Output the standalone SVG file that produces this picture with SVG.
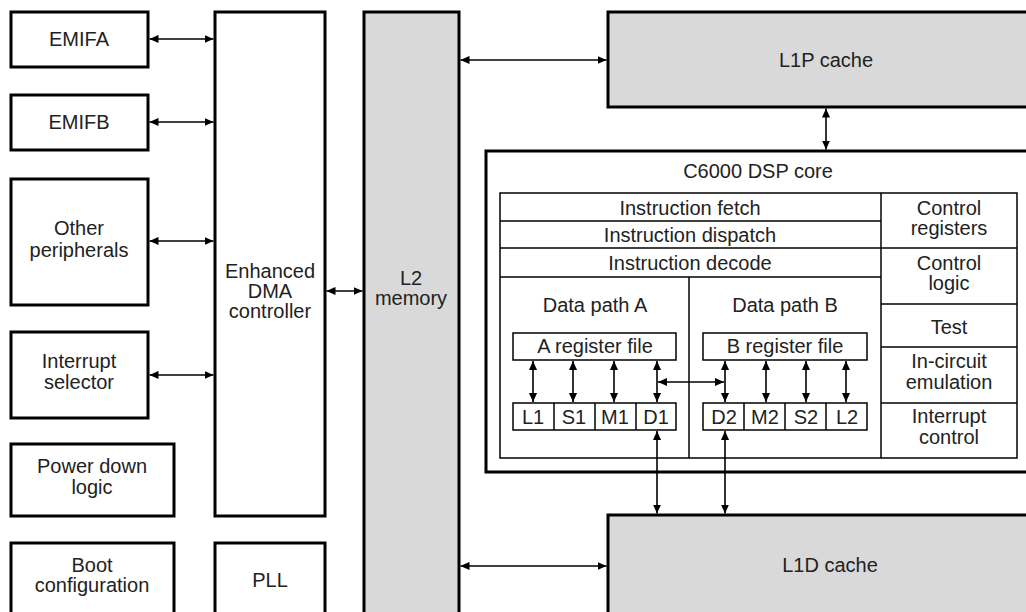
<svg xmlns="http://www.w3.org/2000/svg" width="1026" height="612" viewBox="0 0 1026 612">
<style>
.box{fill:#fff;stroke:#000;stroke-width:3}
.gray{fill:#d9d9d9;stroke:#000;stroke-width:3}
.thin{fill:none;stroke:#000;stroke-width:1.5}
.t{font-family:"Liberation Sans",Arial,sans-serif;font-size:20px;fill:#222;text-anchor:middle}
.c line{stroke:#000;stroke-width:1.6;marker-start:url(#ah);marker-end:url(#ah)}
</style>
<defs>
<marker id="ah" viewBox="0 0 10 10" refX="10" refY="5" markerWidth="9" markerHeight="9" markerUnits="userSpaceOnUse" orient="auto-start-reverse">
<path d="M0,0.5 L10,5 L0,9.5 z" fill="#000"/>
</marker>
</defs>
<rect width="1026" height="612" fill="#fff"/>

<g id="emifa"><rect class="box" x="11" y="12" width="137" height="55"/><text class="t" x="79" y="46">EMIFA</text></g>
<g id="emifb"><rect class="box" x="11" y="95" width="137" height="55"/><text class="t" x="79" y="129">EMIFB</text></g>
<g id="other"><rect class="box" x="11" y="179" width="137" height="126"/><text class="t" x="79" y="235">Other</text><text class="t" x="79" y="257">peripherals</text></g>
<g id="intsel"><rect class="box" x="11" y="332" width="137" height="86"/><text class="t" x="79" y="368">Interrupt</text><text class="t" x="79" y="389">selector</text></g>
<g id="power"><rect class="box" x="11" y="444" width="163" height="72"/><text class="t" x="92" y="473">Power down</text><text class="t" x="92" y="494">logic</text></g>
<g id="boot"><rect class="box" x="11" y="543" width="163" height="90"/><text class="t" x="92" y="572">Boot</text><text class="t" x="92" y="592">configuration</text></g>
<g id="dma"><rect class="box" x="215" y="12" width="110" height="504"/><text class="t" x="270" y="278">Enhanced</text><text class="t" x="270" y="298">DMA</text><text class="t" x="270" y="318">controller</text></g>
<g id="pll"><rect class="box" x="215" y="543" width="110" height="90"/><text class="t" x="270" y="587">PLL</text></g>
<g id="l2"><rect class="gray" x="364" y="12" width="95" height="620"/><text class="t" x="411" y="285">L2</text><text class="t" x="411" y="305">memory</text></g>
<g id="l1p"><rect class="gray" x="608" y="12" width="440" height="95"/><text class="t" x="826" y="67">L1P cache</text></g>
<g id="l1d"><rect class="gray" x="608" y="515" width="440" height="120"/><text class="t" x="830" y="572">L1D cache</text></g>

<g id="core">
<rect class="box" x="486" y="151" width="560" height="321"/>
<text class="t" x="758" y="178">C6000 DSP core</text>
<rect class="thin" x="500" y="193" width="517" height="265"/>
<line class="thin" x1="881" y1="193" x2="881" y2="458"/>
<line class="thin" x1="500" y1="221" x2="881" y2="221"/>
<line class="thin" x1="500" y1="248" x2="1017" y2="248"/>
<line class="thin" x1="500" y1="277" x2="881" y2="277"/>
<line class="thin" x1="689" y1="277" x2="689" y2="458"/>
<line class="thin" x1="881" y1="304" x2="1017" y2="304"/>
<line class="thin" x1="881" y1="347" x2="1017" y2="347"/>
<line class="thin" x1="881" y1="403" x2="1017" y2="403"/>
<text class="t" x="690" y="215">Instruction fetch</text>
<text class="t" x="690" y="242">Instruction dispatch</text>
<text class="t" x="690" y="270">Instruction decode</text>
<text class="t" x="949" y="215">Control</text>
<text class="t" x="949" y="235">registers</text>
<text class="t" x="949" y="270">Control</text>
<text class="t" x="949" y="290">logic</text>
<text class="t" x="949" y="334">Test</text>
<text class="t" x="949" y="368">In-circuit</text>
<text class="t" x="949" y="389">emulation</text>
<text class="t" x="949" y="423">Interrupt</text>
<text class="t" x="949" y="444">control</text>
<text class="t" x="595" y="312">Data path A</text>
<text class="t" x="785" y="312">Data path B</text>
</g>
<g id="regA"><rect class="thin" x="513" y="333" width="163" height="27"/><text class="t" x="595" y="353">A register file</text></g>
<g id="regB"><rect class="thin" x="703" y="333" width="164" height="27"/><text class="t" x="785" y="353">B register file</text></g>
<g id="unitsA">
<rect class="thin" x="513" y="403" width="163" height="27"/>
<line class="thin" x1="554" y1="403" x2="554" y2="430"/><line class="thin" x1="595" y1="403" x2="595" y2="430"/><line class="thin" x1="636" y1="403" x2="636" y2="430"/>
<text class="t" x="533" y="424">L1</text><text class="t" x="574" y="424">S1</text><text class="t" x="615" y="424">M1</text><text class="t" x="656" y="424">D1</text>
</g>
<g id="unitsB">
<rect class="thin" x="703" y="403" width="164" height="27"/>
<line class="thin" x1="744" y1="403" x2="744" y2="430"/><line class="thin" x1="785" y1="403" x2="785" y2="430"/><line class="thin" x1="826" y1="403" x2="826" y2="430"/>
<text class="t" x="724" y="424">D2</text><text class="t" x="765" y="424">M2</text><text class="t" x="806" y="424">S2</text><text class="t" x="847" y="424">L2</text>
</g>

<g id="connectors" class="c">
<line x1="149.5" y1="39" x2="213.5" y2="39"/>
<line x1="149.5" y1="122" x2="213.5" y2="122"/>
<line x1="149.5" y1="241" x2="213.5" y2="241"/>
<line x1="149.5" y1="375" x2="213.5" y2="375"/>
<line x1="326.5" y1="291" x2="362.5" y2="291"/>
<line x1="460.5" y1="60" x2="606.5" y2="60"/>
<line x1="460.5" y1="566" x2="606.5" y2="566"/>
<line x1="826" y1="108.5" x2="826" y2="149.5"/>
<line x1="533" y1="361" x2="533" y2="402"/>
<line x1="573" y1="361" x2="573" y2="402"/>
<line x1="614" y1="361" x2="614" y2="402"/>
<line x1="657" y1="361" x2="657" y2="402"/>
<line x1="725" y1="361" x2="725" y2="402"/>
<line x1="766" y1="361" x2="766" y2="402"/>
<line x1="806" y1="361" x2="806" y2="402"/>
<line x1="846" y1="361" x2="846" y2="402"/>
<line x1="658" y1="382" x2="724" y2="382"/>
<line x1="657" y1="431" x2="657" y2="513.5"/>
<line x1="725" y1="431" x2="725" y2="513.5"/>
</g>
</svg>
